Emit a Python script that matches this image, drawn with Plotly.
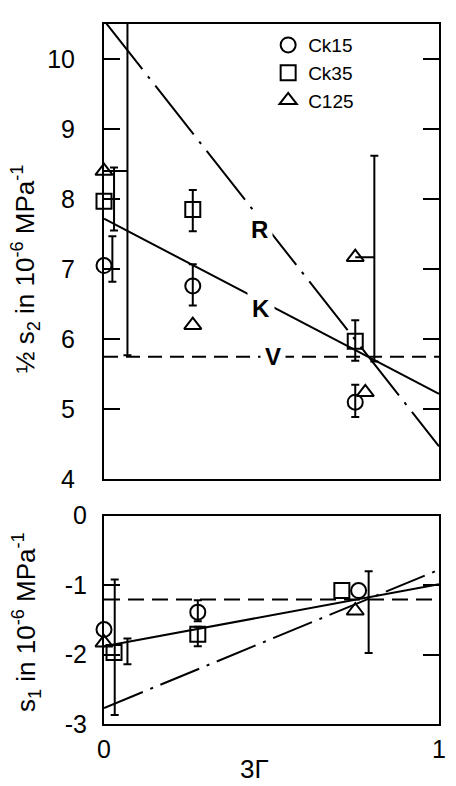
import plotly.graph_objects as go

FONT = "Liberation Sans Narrow, Liberation Sans, Arial, sans-serif"

# ---------------- top panel: 1/2 s2 ----------------
top_ck15_x = [0.0, 0.265, 0.75]
top_ck15_y = [7.05, 6.76, 5.10]
top_ck35_x = [0.0, 0.265, 0.75]
top_ck35_y = [7.97, 7.85, 5.97]
top_c125_x = [0.0, 0.265, 0.75, 0.78]
top_c125_y = [8.40, 6.20, 7.17, 5.24]

# error bars: position, low, high
top_eb_x = [0.03, 0.025, 0.07, 0.265, 0.265, 0.75, 0.75, 0.807]
top_eb_lo = [7.55, 6.82, 5.77, 7.54, 6.48, 5.69, 4.89, 5.68]
top_eb_hi = [8.45, 7.47, 11.0, 8.13, 7.07, 6.27, 5.35, 8.62]
# connectors from triangle to its offset error bar
top_conn_x0 = [0.0, 0.75]
top_conn_x1 = [0.07, 0.807]
top_conn_y = [8.40, 7.17]

# model lines (3Γ = 0 and 1)
line_x = [0.0, 1.0]
top_R = [10.55, 4.47]
top_K = [7.72, 5.22]
top_V = [5.75, 5.75]

# ---------------- bottom panel: s1 ----------------
bot_ck15_x = [0.0, 0.28, 0.76]
bot_ck15_y = [-1.64, -1.39, -1.08]
bot_ck35_x = [0.03, 0.28, 0.71]
bot_ck35_y = [-1.97, -1.71, -1.08]
bot_c125_x = [0.0, 0.75]
bot_c125_y = [-1.83, -1.37]

bot_eb_x = [0.032, 0.07, 0.28, 0.28, 0.79]
bot_eb_lo = [-2.87, -2.14, -1.52, -1.88, -1.98]
bot_eb_hi = [-0.92, -1.77, -1.22, -1.60, -0.80]

bot_R = [-2.77, -0.78]
bot_K = [-1.88, -0.99]
bot_V = [-1.21, -1.21]

top_yticks = [4, 5, 6, 7, 8, 9, 10]
bot_yticks = [-3, -2, -1, 0]
bot_xticks = [0, 1]

series_names = ["Ck15", "Ck35", "C125"]
symbols = ["circle-open", "square-open", "triangle-up-open"]

fig = go.Figure()

# model lines
def add_line(x, y, dash, xa, ya):
    fig.add_trace(go.Scatter(x=x, y=y, mode="lines", xaxis=xa, yaxis=ya,
                             line=dict(color="black", width=2, dash=dash),
                             showlegend=False, hoverinfo="skip"))

add_line(line_x, top_R, "62px,9px,3px,9px", "x", "y")
add_line(line_x, top_K, "solid", "x", "y")
add_line(line_x, top_V, "14px,8px", "x", "y")
add_line(line_x, bot_R, "42px,8px,3px,8px", "x2", "y2")
add_line(line_x, bot_K, "solid", "x2", "y2")
add_line(line_x, bot_V, "16px,8px", "x2", "y2")

# connectors
for x0, x1, yy in zip(top_conn_x0, top_conn_x1, top_conn_y):
    add_line([x0, x1], [yy, yy], "solid", "x", "y")

# error bars
def add_eb(xs, lo, hi, xa, ya):
    mids = [(a + b) / 2 for a, b in zip(lo, hi)]
    fig.add_trace(go.Scatter(
        x=xs, y=mids, mode="markers", xaxis=xa, yaxis=ya,
        marker=dict(color="rgba(0,0,0,0)", size=2),
        error_y=dict(type="data", symmetric=False,
                     array=[h - m for h, m in zip(hi, mids)],
                     arrayminus=[m - l for m, l in zip(mids, lo)],
                     color="black", thickness=2, width=4),
        showlegend=False, hoverinfo="skip"))

add_eb(top_eb_x, top_eb_lo, top_eb_hi, "x", "y")
add_eb(bot_eb_x, bot_eb_lo, bot_eb_hi, "x2", "y2")

# markers
top_sets = [(top_ck15_x, top_ck15_y), (top_ck35_x, top_ck35_y), (top_c125_x, top_c125_y)]
bot_sets = [(bot_ck15_x, bot_ck15_y), (bot_ck35_x, bot_ck35_y), (bot_c125_x, bot_c125_y)]
for i, (name, sym) in enumerate(zip(series_names, symbols)):
    fig.add_trace(go.Scatter(
        x=top_sets[i][0], y=top_sets[i][1], mode="markers", name=name,
        xaxis="x", yaxis="y", cliponaxis=False, legendgroup=name,
        marker=dict(symbol=sym, size=15, color="black", line=dict(width=2, color="black"))))
    fig.add_trace(go.Scatter(
        x=bot_sets[i][0], y=bot_sets[i][1], mode="markers", name=name,
        xaxis="x2", yaxis="y2", cliponaxis=False, legendgroup=name, showlegend=False,
        marker=dict(symbol=sym, size=15, color="black", line=dict(width=2, color="black"))))

axis_common = dict(showline=True, linecolor="black", linewidth=2, showgrid=False,
                   zeroline=False, tickcolor="black", tickwidth=2)

fig.update_layout(
    width=456, height=786,
    margin=dict(l=104, r=10, t=12, b=62),
    paper_bgcolor="white", plot_bgcolor="white",
    font=dict(family=FONT, color="black", size=20),
    xaxis=dict(domain=[0, 1], range=[0, 1], anchor="y", mirror=True, ticks="",
               showticklabels=False, **axis_common),
    yaxis=dict(domain=[0.3497, 1], range=[4, 10.5], anchor="x", mirror="ticks",
               ticks="inside", ticklen=16, tickvals=top_yticks,
               ticktext=[str(v) for v in top_yticks],
               ticklabelstandoff=22, tickfont=dict(size=25), **axis_common),
    xaxis2=dict(domain=[0, 1], range=[0, 1], anchor="y2", mirror=True, ticks="",
                tickvals=bot_xticks, ticktext=[str(v) for v in bot_xticks],
                ticklabelstandoff=2, tickfont=dict(size=25), **axis_common),
    yaxis2=dict(domain=[0, 0.2978], range=[-3, 0], anchor="x2", mirror="ticks",
                ticks="inside", ticklen=16, tickvals=bot_yticks,
                ticktext=[str(v) for v in bot_yticks],
                ticklabelstandoff=10, tickfont=dict(size=25), **axis_common),
    legend=dict(x=0.49, y=0.997, xanchor="left", yanchor="top",
                bgcolor="rgba(0,0,0,0)", font=dict(size=19),
                traceorder="grouped", tracegroupgap=0),
    showlegend=True,
)

ann = [
    dict(text="<b>R</b>", x=0.465, y=7.57, xref="x", yref="y"),
    dict(text="<b>K</b>", x=0.47, y=6.44, xref="x", yref="y"),
    dict(text="<b>V</b>", x=0.503, y=5.75, xref="x", yref="y"),
]
for a in ann:
    fig.add_annotation(**a, showarrow=False, bgcolor="white", borderpad=4,
                       font=dict(size=24, family=FONT))

fig.add_annotation(text="½ s<sub>2</sub> in 10<sup>-6</sup> MPa<sup>-1</sup>",
                   xref="paper", yref="paper", x=-0.235, y=0.650, textangle=-90,
                   showarrow=False, xanchor="center", yanchor="middle",
                   font=dict(size=26, family=FONT))
fig.add_annotation(text="s<sub>1</sub> in 10<sup>-6</sup> MPa<sup>-1</sup>",
                   xref="paper", yref="paper", x=-0.232, y=0.146, textangle=-90,
                   showarrow=False, xanchor="center", yanchor="middle",
                   font=dict(size=26, family=FONT))
fig.add_annotation(text="3Γ", xref="paper", yref="paper", x=0.45, y=-0.0646,
                   showarrow=False, xanchor="center", yanchor="middle",
                   font=dict(size=26, family=FONT))

fig.write_html("out.html")
